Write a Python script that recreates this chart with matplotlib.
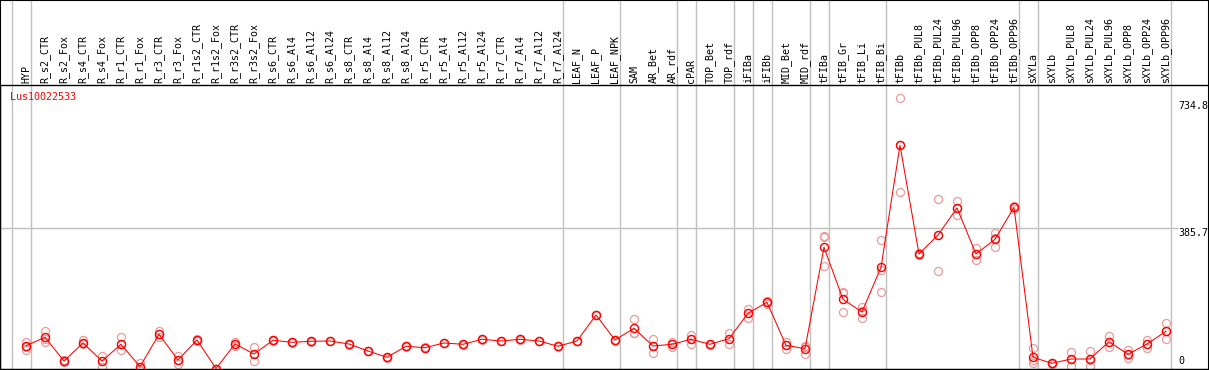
import matplotlib
matplotlib.use("Agg")
import matplotlib.pyplot as plt
import matplotlib.transforms as mtransforms
from matplotlib.patches import Rectangle

gene = "Lus10022533"

samples = ["HYP", "R_s2_CTR", "R_s2_Fox", "R_s4_CTR", "R_s4_Fox", "R_r1_CTR", "R_r1_Fox",
           "R_r3_CTR", "R_r3_Fox", "R_r1s2_CTR", "R_r1s2_Fox", "R_r3s2_CTR", "R_r3s2_Fox",
           "R_s6_CTR", "R_s6_Al4", "R_s6_Al12", "R_s6_Al24", "R_s8_CTR", "R_s8_Al4", "R_s8_Al12",
           "R_s8_Al24", "R_r5_CTR", "R_r5_Al4", "R_r5_Al12", "R_r5_Al24", "R_r7_CTR", "R_r7_Al4",
           "R_r7_Al12", "R_r7_Al24", "LEAF_N", "LEAF_P", "LEAF_NPK", "SAM", "AR_Bet", "AR_rdf",
           "cPAR", "TOP_Bet", "TOP_rdf", "iFIBa", "iFIBb", "MID_Bet", "MID_rdf", "tFIBa",
           "tFIB_Gr", "tFIB_Li", "tFIB_Bi", "tFIBb", "tFIBb_PUL8", "tFIBb_PUL24", "tFIBb_PUL96",
           "tFIBb_OPP8", "tFIBb_OPP24", "tFIBb_OPP96", "sXYLa", "sXYLb", "sXYLb_PUL8",
           "sXYLb_PUL24", "sXYLb_PUL96", "sXYLb_OPP8", "sXYLb_OPP24", "sXYLb_OPP96"]

# mean expression per sample
means = [62.7, 85.8, 20.6, 70.2, 20.6, 66.6, 5.0, 94.1, 23.4, 78.4, 0.0, 67.4, 39.9,
         77.6, 72.1, 74.8, 75.7, 67.4, 48.1, 30.8, 61.1, 57.2, 70.2, 66.6, 80.3, 75.7,
         80.3, 75.7, 61.1, 75.7, 147.2, 78.4, 110.6, 61.9, 66.6, 80.3, 66.6, 82.0, 151.9,
         182.1, 63.8, 54.5, 333.4, 190.4, 155.4, 278.4, 614.0, 315.0, 367.3, 441.6, 315.0,
         355.4, 443.5, 30.8, 14.3, 26.1, 26.1, 73.7, 39.1, 67.4, 102.3]

# replicates
rep_a = [73.7, 104.0, 18.0, 78.4, 35.2, 87.5, 14.3, 103.2, 34.4, 76.0, 0.0, 72.9, 60.0,
         76.0, 71.0, 74.0, 75.0, 66.0, 47.0, 30.0, 60.0, 56.0, 69.0, 65.0, 79.0, 75.0,
         79.0, 75.0, 60.0, 75.0, 146.0, 77.0, 136.2, 80.3, 60.0, 92.2, 65.0, 98.5, 163.7,
         178.0, 73.7, 62.7, 360.9, 209.6, 170.0, 353.5, 743.3, 312.0, 465.5, 460.0, 330.7,
         371.9, 440.0, 55.6, 16.0, 44.6, 47.3, 89.4, 50.9, 78.4, 124.3]
rep_b = [59.1, 72.1, 21.0, 67.4, 4.1, 50.1, 4.0, 95.0, 12.4, 78.0, 0.0, 61.9, 20.6,
         78.0, 73.0, 75.0, 76.0, 68.0, 49.0, 31.0, 62.0, 58.0, 71.0, 67.0, 81.0, 76.0,
         81.0, 76.0, 62.0, 76.0, 148.0, 79.0, 96.8, 41.8, 72.9, 67.4, 67.0, 66.6, 139.8,
         183.0, 52.8, 40.7, 365.3, 154.6, 138.1, 210.5, 484.7, 315.0, 268.2, 423.0, 298.5,
         335.0, 443.0, 14.3, 14.0, 6.9, 6.9, 60.0, 29.7, 57.2, 80.3]
rep_c = [50.9, 82.0, 23.0, 70.2, 20.6, 67.0, 0.0, 86.7, 23.4, 81.0, 0.0, 67.4, 39.9,
         79.0, 72.5, 75.5, 76.5, 68.5, 48.5, 31.5, 61.5, 57.5, 70.5, 66.0, 80.0, 75.5,
         80.5, 75.5, 61.0, 75.5, 147.5, 78.5, 99.0, 61.9, 66.6, 80.3, 66.0, 82.0, 151.9,
         186.0, 63.8, 60.0, 282.0, 207.0, 158.0, 271.0, 614.0, 318.0, 367.0, 441.0, 315.0,
         359.0, 447.0, 22.5, 12.0, 26.8, 24.0, 71.7, 36.7, 66.6, 102.3]

# groups end after these sample indices
group_ends = [-1, 0, 28, 31, 34, 35, 37, 38, 39, 41, 42, 45, 52, 53, 60]

tick_values = [0, 385.7, 734.8]
tick_labels = ["0", "385.7", "734.8"]

W, H = 1209, 370
fig = plt.figure(figsize=(W / 100, H / 100), dpi=100)
top_px, bot_px = 85, 369
ax = fig.add_axes([0, (H - bot_px) / H, 1, (bot_px - top_px) / H])

# pixel-ish mapping: col i at x = 26 + 19*i, value 0 at y=368.5
k = 0.3635
ax.set_xlim(-26 / 19, (W - 26) / 19)
ax.set_ylim((368.5 - bot_px) / k, (368.5 - top_px) / k)
ax.set_xticks([])
ax.set_yticks([])
for s in ax.spines.values():
    s.set_linewidth(1.0)
    s.set_color("black")

grey = "#c0c0c0"
extra = 1 + top_px / (bot_px - top_px)
for g in group_ends:
    ax.axvline(g + 0.25, ymin=0, ymax=extra, color=grey, lw=1.0, clip_on=False, zorder=1)

ax.hlines(385.7, -26 / 19, (1178 - 26) / 19, color=grey, lw=1.0, zorder=1)

x = list(range(len(samples)))
mono = "DejaVu Sans Mono"
fs = 7.2

for reps in (rep_a, rep_b, rep_c):
    ax.plot(x, reps, ls="none", marker="o", ms=5.8, mfc="none", mec="#eb9a9a",
            mew=0.9, zorder=2)
ax.plot(x, means, color="red", lw=0.75, marker="o", ms=5.8, mfc="none", mec="red",
        mew=1.0, zorder=3)

trans = mtransforms.blended_transform_factory(ax.transData, ax.transAxes)
for i, name in enumerate(samples):
    ax.text(i, 1 + 2 / (bot_px - top_px), name, transform=trans, rotation=90,
            ha="center", va="bottom", fontsize=fs, family=mono, clip_on=False)

lab_x = (1178 - 26) / 19
ax.text(lab_x, 734.8, tick_labels[2], ha="left", va="top", fontsize=fs, family=mono)
ax.text(lab_x, 385.7, tick_labels[1], ha="left", va="top", fontsize=fs, family=mono)
ax.text(lab_x, 8, tick_labels[0], ha="left", va="bottom", fontsize=fs, family=mono)

fig.text(10 / W, 1 - 92 / H, gene, color="red", ha="left", va="top",
         fontsize=fs, family=mono)

fig.patches.append(Rectangle((0, 0), 1, 1, transform=fig.transFigure, fill=False,
                             edgecolor="black", lw=1.5))

fig.savefig("out.png", dpi=100)
